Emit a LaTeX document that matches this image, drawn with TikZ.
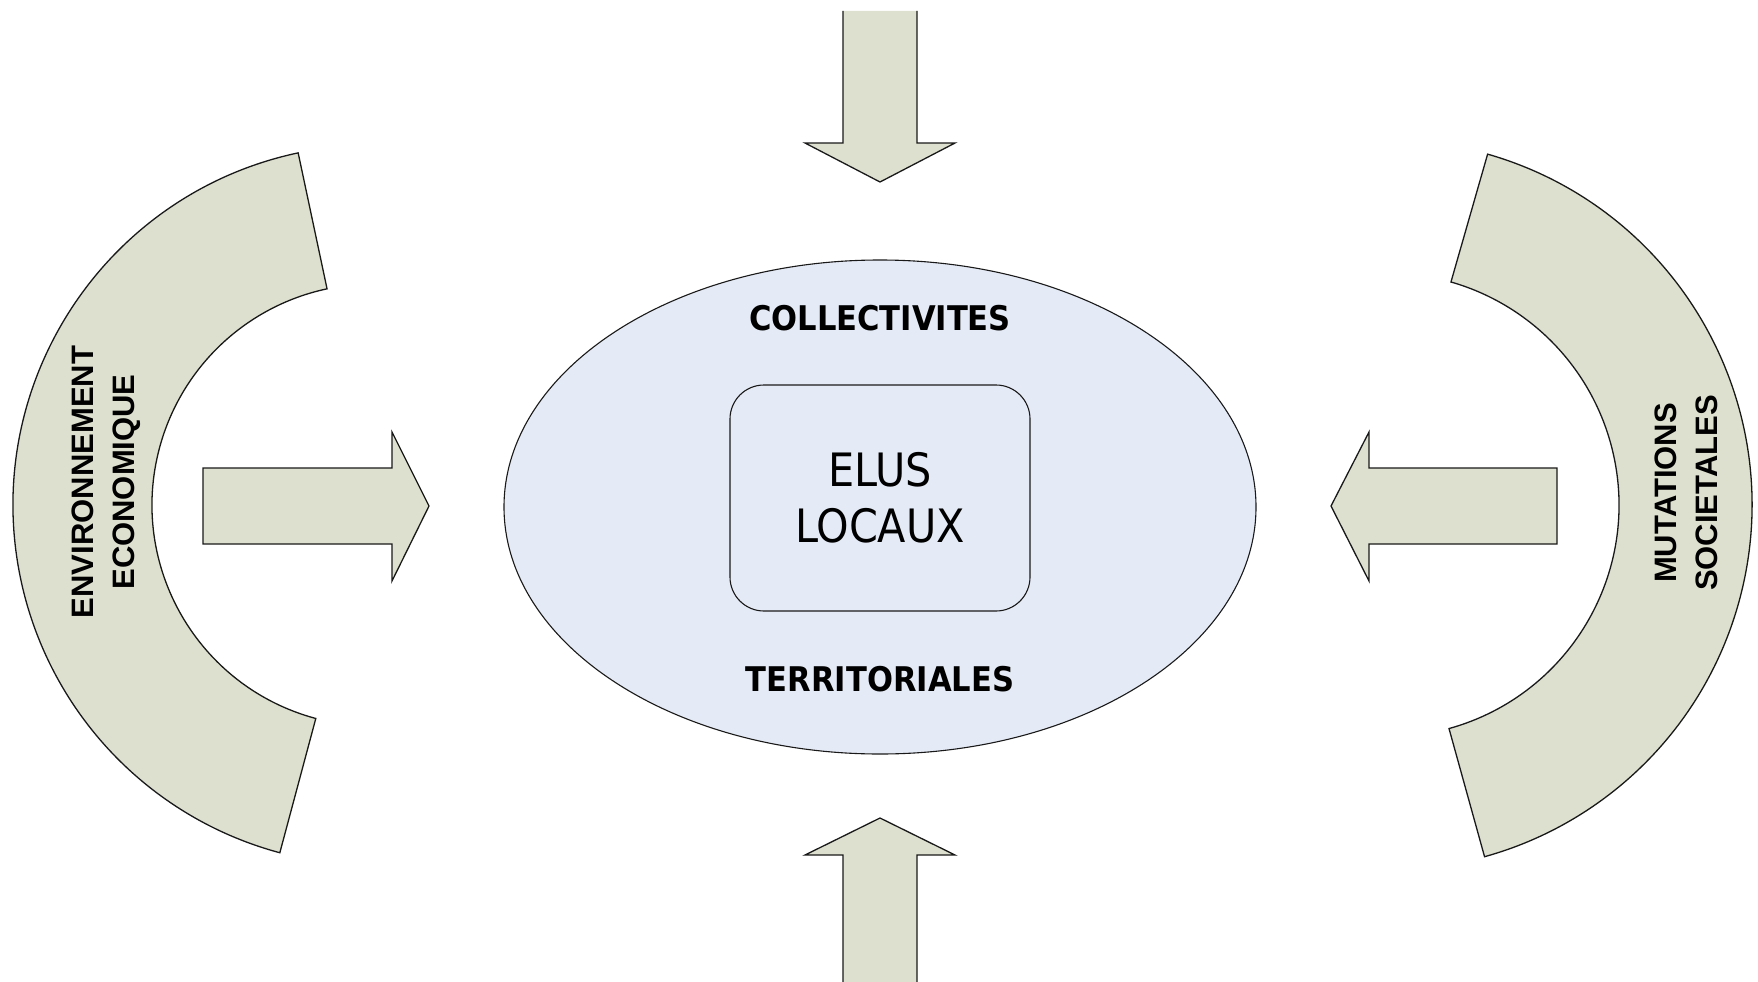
\documentclass[tikz,border=0pt]{standalone}
\usepackage{fontspec}
\setmainfont{Liberation Sans}
\newfontfamily\tahomalike{DejaVu Sans Condensed}
\usetikzlibrary{shapes.geometric}

\definecolor{sagefill}{RGB}{221,224,207}
\definecolor{paleblue}{RGB}{229,235,246}

\begin{document}
\begin{tikzpicture}[x=1pt,y=-1pt,
    sage/.style={fill=sagefill,draw=black!90,line width=1.3pt,line join=miter},
    sageedge/.style={draw=black!90,line width=1.3pt},
    sidetext/.style={rotate=90,align=center,font=\bfseries\fontsize{31}{41}\selectfont},
    ringtext/.style={font=\tahomalike\bfseries\fontsize{34}{40}\selectfont}]
    \useasboundingbox (0,0) rectangle (1758,982);

    % the two half rings
    \coordinate (envc) at (373,505);
    \coordinate (mutc) at (1387,505);
    \draw[sage] ([shift={(envc)}]258:360) arc[start angle=258,end angle=105,radius=360]
        -- ([shift={(envc)}]105:221) arc[start angle=105,end angle=258,radius=221] -- cycle;
    \draw[sage] ([shift={(mutc)}]-74:365) arc[start angle=-74,end angle=74.5,radius=365]
        -- ([shift={(mutc)}]74.5:232) arc[start angle=74.5,end angle=-74,radius=232] -- cycle;
    \node[sidetext] (envtext) at (106,482) {ENVIRONNEMENT\\ECONOMIQUE};
    \node[sidetext] (muttext) at (1686,493) {MUTATIONS\\SOCIETALES};

    % side arrows
    \draw[sage] (203,468) -- (392,468) -- (392,432) -- (429,506) -- (392,581) -- (392,544) -- (203,544) -- cycle;
    \draw[sage] (1557,468) -- (1369,468) -- (1369,432) -- (1331,506) -- (1369,581) -- (1369,544) -- (1557,544) -- cycle;

    % top and bottom arrows
    \fill[sagefill] (843,11) -- (843,143) -- (805,143) -- (880,182) -- (955,143) -- (917,143) -- (917,11) -- cycle;
    \draw[sageedge] (843,11) -- (843,143) -- (805,143) -- (880,182) -- (955,143) -- (917,143) -- (917,11);
    \fill[sagefill] (843,982) -- (843,855) -- (805,855) -- (880,818) -- (955,855) -- (917,855) -- (917,982) -- cycle;
    \draw[sageedge] (843,982) -- (843,855) -- (805,855) -- (880,818) -- (955,855) -- (917,855) -- (917,982);

    % centre
    \node[ellipse,draw=black!90,line width=1.1pt,fill=paleblue,minimum width=752pt,minimum height=494pt,inner sep=0pt] (coll) at (880,507) {};
    \node[draw=black!90,line width=1.1pt,rounded corners=34pt,minimum width=300pt,minimum height=226pt,align=center,
        font=\tahomalike\fontsize{46}{56}\selectfont] (elus) at (880,498) {ELUS\\LOCAUX};
    \node[ringtext] (colltext) at (880,318) {COLLECTIVITES};
    \node[ringtext] (terrtext) at (880,679) {TERRITORIALES};
\end{tikzpicture}
\end{document}
